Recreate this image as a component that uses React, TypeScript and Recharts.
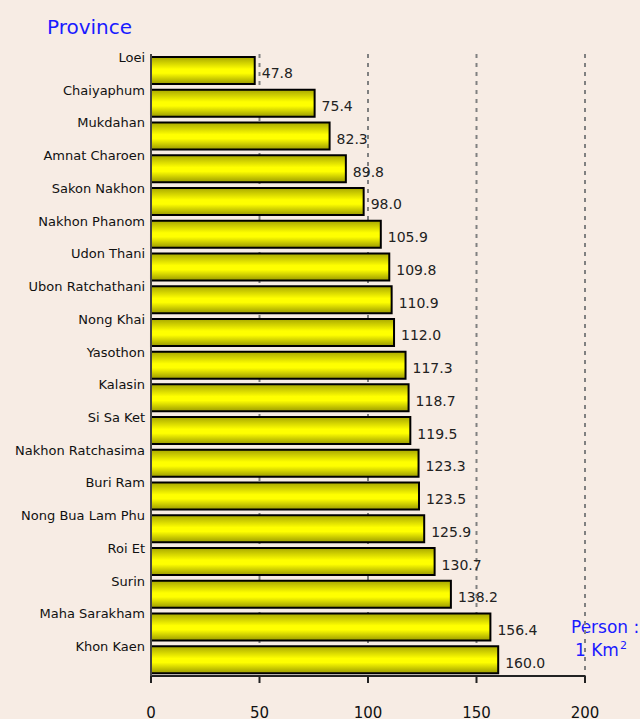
import React from 'react';
import { BarChart, Bar, XAxis, YAxis, CartesianGrid, LabelList } from 'recharts';

const provinces = [
  'Loei', 'Chaiyaphum', 'Mukdahan', 'Amnat Charoen', 'Sakon Nakhon', 'Nakhon Phanom',
  'Udon Thani', 'Ubon Ratchathani', 'Nong Khai', 'Yasothon', 'Kalasin', 'Si Sa Ket',
  'Nakhon Ratchasima', 'Buri Ram', 'Nong Bua Lam Phu', 'Roi Et', 'Surin', 'Maha Sarakham', 'Khon Kaen',
];
const density = [
  47.8, 75.4, 82.3, 89.8, 98.0, 105.9, 109.8, 110.9, 112.0, 117.3,
  118.7, 119.5, 123.3, 123.5, 125.9, 130.7, 138.2, 156.4, 160.0,
];
const xTicks = [0, 50, 100, 150, 200];

const FONT = 'Tahoma, "DejaVu Sans", "Noto Sans", sans-serif';

const data = provinces.map((name, i) => ({ name, value: density[i] }));

const CategoryTick = (props: any) => {
  const { x, y, payload } = props;
  return (
    <text x={x} y={y - 13} dy="0.35em" textAnchor="end" fontSize={13} fontFamily={FONT} fill="#111">
      {payload.value}
    </text>
  );
};

export default function App() {
  return (
    <div style={{ position: 'fixed', left: 0, top: 0, width: 640, height: 719, background: '#f7ece4', overflow: 'hidden' }}>
      <div style={{ position: 'absolute', left: 47, top: 15, color: '#1a1aff', fontSize: 20, fontFamily: FONT }}>
        Province
      </div>
      <div style={{ position: 'absolute', left: 571, top: 616, color: '#1a1aff', fontSize: 17, fontFamily: FONT, lineHeight: '23px' }}>
        Person :
        <div style={{ paddingLeft: 4 }}>
          1 Km<sup style={{ fontSize: 11, verticalAlign: 'top', position: 'relative', top: -5, marginLeft: 1 }}>2</sup>
        </div>
      </div>
      <BarChart
        width={640}
        height={719}
        data={data}
        layout="vertical"
        margin={{ top: 54, right: 55, bottom: 0, left: 0 }}
        barSize={27}
        style={{ position: 'absolute', left: 0, top: 0 }}
      >
        <defs>
          <linearGradient id="barFill" x1="0" y1="0" x2="0" y2="1">
            <stop offset="0%" stopColor="#a8a800" />
            <stop offset="45%" stopColor="#ffff00" />
            <stop offset="60%" stopColor="#ffff00" />
            <stop offset="100%" stopColor="#9a9a00" />
          </linearGradient>
        </defs>
        <CartesianGrid horizontal={false} stroke="#808080" strokeWidth={2} strokeDasharray="4 5" />
        <XAxis
          type="number"
          domain={[0, 200]}
          ticks={xTicks}
          height={43}
          tickSize={7}
          tickMargin={24}
          axisLine={{ stroke: '#222', strokeWidth: 2 }}
          tickLine={{ stroke: '#222', strokeWidth: 2 }}
          tick={{ fontSize: 15, fontFamily: FONT, fill: '#111' }}
        />
        <YAxis
          type="category"
          dataKey="name"
          width={151}
          tickLine={false}
          tickSize={6}
          tickMargin={0}
          axisLine={{ stroke: '#444', strokeWidth: 2 }}
          tick={<CategoryTick />}
          interval={0}
        />
        <Bar dataKey="value" fill="url(#barFill)" stroke="#000" strokeWidth={2} isAnimationActive={false}>
          <LabelList
            dataKey="value"
            position="right"
            offset={7}
            formatter={(v: any) => Number(v).toFixed(1)}
            style={{ fontSize: 14, fontFamily: FONT, fill: '#222' }}
            dy={3}
          />
        </Bar>
      </BarChart>
    </div>
  );
}
